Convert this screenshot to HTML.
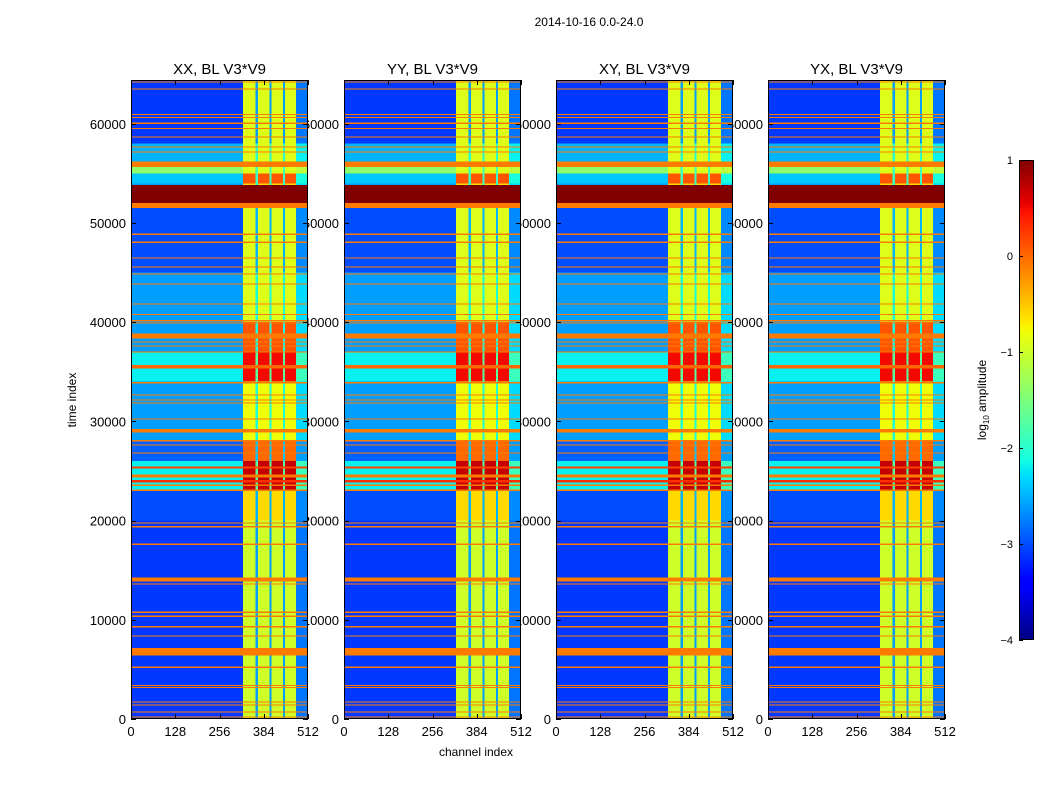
<!DOCTYPE html>
<html><head><meta charset="utf-8">
<style>
html,body{margin:0;padding:0;background:#fff;}
body{width:1050px;height:800px;overflow:hidden;font-family:"Liberation Sans","DejaVu Sans",sans-serif;}
svg text{font-family:"Liberation Sans","DejaVu Sans",sans-serif;}
</style></head>
<body>
<svg id="fig" width="1050" height="800" xmlns="http://www.w3.org/2000/svg" shape-rendering="crispEdges">
<text x="589" y="26" font-size="12" text-anchor="middle">2014-10-16 0.0-24.0</text>
<text transform="translate(76,400) rotate(-90)" font-size="12" text-anchor="middle">time index</text>
<text x="476" y="756" font-size="12" text-anchor="middle">channel index</text>
<text transform="translate(986,400) rotate(-90)" font-size="12" text-anchor="middle">log<tspan font-size="8" dy="3">10</tspan><tspan dy="-3"> amplitude</tspan></text>
<g id="labels"></g>
<g id="panels"></g>
<g id="cbar"></g>
</svg>
<script>
// ---- data ----
const panelTitles = ["XX, BL V3*V9","YY, BL V3*V9","XY, BL V3*V9","YX, BL V3*V9"];
const xTicks = [0,128,256,384,512];
const yTicks = [0,10000,20000,30000,40000,50000,60000];
const cbTicks = [1,0,-1,-2,-3,-4];
// channel structure
const chanStart = [0,324,360,368,400,406,440,446,478];
const chanEnd   = [324,360,368,400,406,440,446,478,512];
const chanKind  = ["out","in","gap","in","gap","in","gap","in","edge"];
// time segments: out-of-band and in-band log amplitude
const timeStart = [0,20000,23000,26000,28000,34000,37000,40000,45000,51500,54000,55000,56200,58000];
const timeEnd   = [20000,23000,26000,28000,34000,37000,40000,45000,51500,54000,55000,56200,58000,64440];
const outVal    = [-3.1,-3.0,-2.2,-2.9,-2.6,-2.2,-2.6,-2.6,-3.0,-2.6,-2.4,-1.4,-2.5,-3.1];
const inVal     = [-1.0,-0.6,0.7,0.0,-0.8,0.5,0.1,-0.9,-0.9,-0.6,0.1,-0.9,-0.9,-0.9];
// flagged (RFI) rows
const rfiStart = [150,650,1350,1650,3150,3350,5150,6400,8300,9200,10300,10700,13550,13850,17550,19300,19700,23000,23500,23850,24350,25250,26750,27550,27950,28900,30200,31800,32100,32600,33800,35350,36950,37550,37950,38350,39850,40050,40750,41800,43800,44800,45500,46400,48000,48800,51500,52000,55650,56150,57100,57600,58600,59500,60000,60600,60900,63450,64150];
const rfiEnd   = [250,750,1450,1750,3250,3450,5300,7150,8400,9350,10450,10850,13650,14250,17700,19450,19800,23150,23650,24100,24650,25450,26850,27650,28100,29250,30300,31900,32200,32700,33950,35700,37050,37650,38050,38850,39950,40200,40850,41900,43900,44900,45600,46500,48150,48950,52000,53850,56150,56200,57200,57700,58700,59600,60150,60700,61000,63550,64250];
const rfiVal   = [-0.1,-0.1,-0.1,-0.1,-0.1,-0.1,-0.1,-0.1,-0.1,-0.1,-0.1,-0.1,-0.1,-0.1,-0.1,-0.1,-0.1,-0.1,-0.1,0.3,-0.1,0.2,-0.1,-0.1,-0.1,-0.1,-0.1,-0.1,-0.1,-0.1,-0.1,0.0,-0.1,-0.1,-0.1,-0.1,-0.1,-0.1,-0.1,-0.1,-0.1,-0.1,-0.1,-0.1,-0.1,-0.1,-0.1,1.0,-0.1,-0.1,-0.1,-0.1,-0.1,-0.1,-0.1,-0.1,-0.1,-0.1,-0.1];

// ---- layout ----
const panelX = [131,344,556,768], PW = 177, PT = 80, PH = 639;
const TMAX = 64415, CMAX = 512, VMIN = -4, VMAX = 1;
const NS = "http://www.w3.org/2000/svg";
function jet(v){
  let n=(v-VMIN)/(VMAX-VMIN); n=Math.max(0,Math.min(1,n));
  const cl=x=>Math.max(0,Math.min(1,x));
  let r = n<0.35?0:n<0.66?(n-0.35)/0.31:n<0.89?1:1-0.5*(n-0.89)/0.11;
  let g = n<0.125?0:n<0.375?(n-0.125)/0.25:n<0.64?1:cl(1-(n-0.64)/0.27);
  let b = n<0.11?0.5+0.5*n/0.11:n<0.34?1:cl(1-(n-0.34)/0.31);
  return `rgb(${Math.round(r*255)},${Math.round(g*255)},${Math.round(b*255)})`;
}
function mk(tag,attrs,parent){const e=document.createElementNS(NS,tag);for(const k in attrs)e.setAttribute(k,attrs[k]);parent.appendChild(e);return e;}
const panels=document.getElementById('panels'), labels=document.getElementById('labels');

panelX.forEach((x0,p)=>{
  const sx=c=>x0+c/CMAX*PW;
  const sy=t=>PT+PH-t/TMAX*PH;
  const g=mk('g',{},panels);
  
  
  for(let i=0;i<timeStart.length;i++){
    for(let j=0;j<chanStart.length;j++){
      const k=chanKind[j];
      const v = k==="out"?outVal[i]:k==="in"?inVal[i]:k==="gap"?Math.min(inVal[i]-1.0,outVal[i]+0.5):outVal[i]+0.3;
      const y1=sy(Math.min(timeEnd[i],TMAX)), y2=sy(timeStart[i]);
      const r=mk('rect',{x:sx(chanStart[j]),y:y1,width:sx(chanEnd[j])-sx(chanStart[j]),height:y2-y1,fill:jet(v)},g);
      
      
    }
  }
  for(let i=0;i<rfiStart.length;i++){
    const y1=sy(rfiEnd[i]), y2=sy(rfiStart[i]);
    const r=mk('rect',{x:x0,y:y1,width:PW,height:Math.max(1,y2-y1),fill:jet(rfiVal[i])},g);
    
    
  }
  const fr=mk('rect',{x:x0+0.5,y:PT+0.5,width:PW-1,height:PH-1,fill:'none',stroke:'#000','stroke-width':1},g);
  
  
  xTicks.forEach(c=>{
    const x=Math.round(sx(c))+0.5;
    mk('line',{x1:x,y1:PT+PH,x2:x,y2:PT+PH-5,stroke:'#000'},g);
    mk('line',{x1:x,y1:PT,x2:x,y2:PT+5,stroke:'#000'},g);
    const t=mk('text',{x:sx(c),y:PT+PH+17,'font-size':13,'text-anchor':'middle'},labels);
    t.textContent=c;
    
    
  });
  yTicks.forEach(v=>{
    const y=Math.round(sy(v))+0.5;
    mk('line',{x1:x0,y1:y,x2:x0+5,y2:y,stroke:'#000'},g);
    mk('line',{x1:x0+PW,y1:y,x2:x0+PW-5,y2:y,stroke:'#000'},g);
    const t=mk('text',{x:x0-5,y:sy(v)+5,'font-size':13,'text-anchor':'end'},labels);
    t.textContent=v;
    
    
  });
  const tt=mk('text',{x:x0+PW/2,y:PT-6,'font-size':15,'text-anchor':'middle'},labels);
  tt.textContent=panelTitles[p];
  
  
});

// colorbar
const cb=document.getElementById('cbar');


const CBX=1019, CBW=15, CBT=160, CBH=480;
for(let i=0;i<CBH;i++){
  const v=VMAX-(i+0.5)/CBH*(VMAX-VMIN);
  mk('rect',{x:CBX,y:CBT+i,width:CBW,height:1,fill:jet(v)},cb);
}
mk('rect',{x:CBX+0.5,y:CBT+0.5,width:CBW-1,height:CBH-1,fill:'none',stroke:'#000'},cb);
cbTicks.forEach(v=>{
  const y=CBT+(VMAX-v)/(VMAX-VMIN)*CBH;
  mk('line',{x1:CBX,y1:Math.round(y)+0.5,x2:CBX+4,y2:Math.round(y)+0.5,stroke:'#000'},cb);
  const t=mk('text',{x:1013,y:y+4,'font-size':11,'text-anchor':'end'},cb);
  t.textContent=(v<0?'\u2212'+(-v):v);
  
  
});
</script>
</body></html>
